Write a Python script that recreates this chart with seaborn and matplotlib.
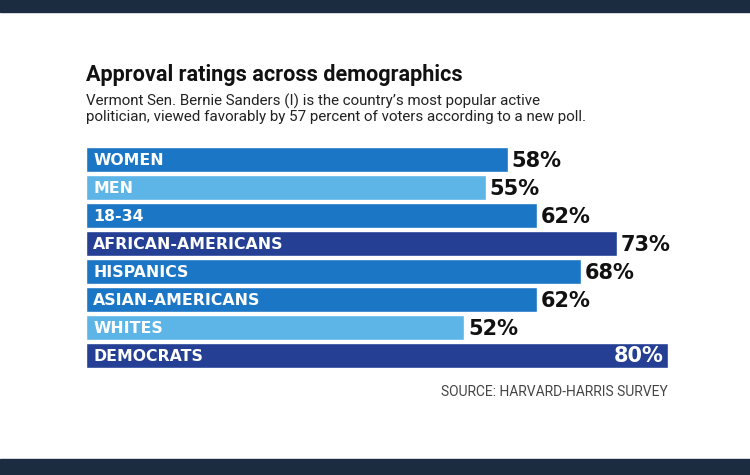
import matplotlib
matplotlib.use('Agg')
import matplotlib.pyplot as plt
import seaborn as sns
import pandas as pd
from matplotlib.patches import Rectangle

sns.set_style('white')
plt.rcParams['font.family'] = ['Roboto', 'DejaVu Sans']

# datos
grupos = ['WOMEN', 'MEN', '18-34', 'AFRICAN-AMERICANS', 'HISPANICS',
          'ASIAN-AMERICANS', 'WHITES', 'DEMOCRATS']
valores = [58, 55, 62, 73, 68, 62, 52, 80]
tonos = ['medio', 'claro', 'medio', 'oscuro', 'medio', 'medio', 'claro', 'oscuro']

colores = {'medio': '#1c76c6', 'claro': '#5db4e6', 'oscuro': '#243f93'}
df = pd.DataFrame({'grupo': grupos, 'valor': valores, 'tono': tonos})

fig = plt.figure(figsize=(7.5, 4.75), dpi=100)
fig.patch.set_facecolor('white')

# bandas oscuras arriba y abajo
fig.patches.append(Rectangle((0, 1 - 12 / 475), 1, 12 / 475, transform=fig.transFigure,
                             color='#1b2b40', zorder=0))
fig.patches.append(Rectangle((0, 0), 1, 16 / 475, transform=fig.transFigure,
                             color='#1b2b40', zorder=0))

ax = fig.add_axes([86 / 750, 1 - 369.5 / 475, (668 - 86) / 750, (369.5 - 145.5) / 475])
sns.barplot(data=df, x='valor', y='grupo', hue='tono', palette=colores,
            dodge=False, width=0.89, legend=False, ax=ax, saturation=1)
ax.set_xlim(0, 80)
ax.set_ylim(7.5, -0.5)
ax.axis('off')

negrita = ['DejaVu Sans']
for i, (g, v) in enumerate(zip(grupos, valores)):
    ax.text(1.0, i + 0.03, g, color='white', fontsize=11.3, fontweight='bold',
            family=negrita, va='center', ha='left')
    if v >= 80:
        ax.text(v - 0.6, i + 0.03, f'{v}%', color='white', fontsize=15,
                fontweight='bold', family=negrita, va='center', ha='right')
    else:
        ax.text(v + 0.5, i + 0.05, f'{v}%', color='#111111', fontsize=15,
                fontweight='bold', family=negrita, va='center', ha='left')

fig.text(86 / 750, 1 - 75 / 475, 'Approval ratings across demographics',
         fontsize=15.6, fontweight='bold', color='#111111', va='center', ha='left')
fig.text(86 / 750, 1 - 109 / 475,
         'Vermont Sen. Bernie Sanders (I) is the country\u2019s most popular active\n'
         'politician, viewed favorably by 57 percent of voters according to a new poll.',
         fontsize=10.9, color='#222222', va='center', ha='left', linespacing=1.1)
fig.text(668 / 750, 1 - 392 / 475, 'SOURCE: HARVARD-HARRIS SURVEY',
         fontsize=10, color='#444444', va='center', ha='right')

fig.savefig('out.png', dpi=100)
